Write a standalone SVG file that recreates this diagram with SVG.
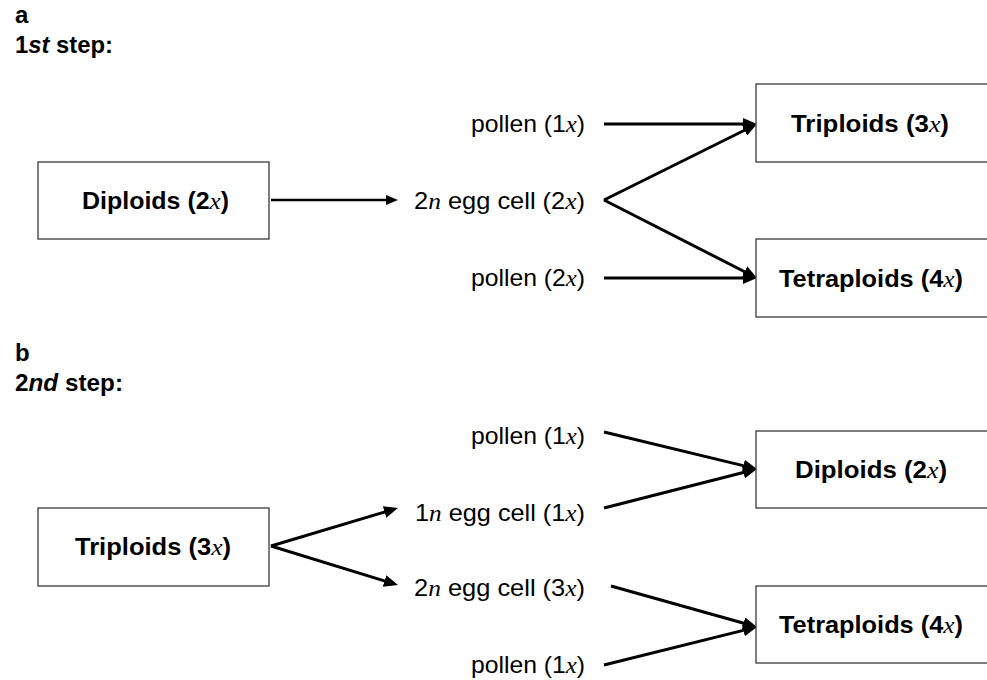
<svg xmlns="http://www.w3.org/2000/svg" width="987" height="680" viewBox="0 0 987 680">
<style>
.t{font-family:"Liberation Sans",Arial,sans-serif;font-size:24px;fill:#000}
.b{font-weight:bold}
.v{font-family:"Liberation Serif","Times New Roman",serif;font-style:italic;font-weight:normal}
.i{font-style:italic}
.box{fill:#fff;stroke:#3a3a3a;stroke-width:1.3}
.c{stroke:#000;stroke-width:3;fill:none}
.c0{stroke:#000;stroke-width:2.6;fill:none}
</style>
<defs>
<marker id="ah" markerUnits="userSpaceOnUse" markerWidth="14" markerHeight="12" refX="4" refY="6" orient="auto"><path d="M0,0 L14,6 L0,12 Z" fill="#000"/></marker>
<marker id="ahs" markerUnits="userSpaceOnUse" markerWidth="12" markerHeight="10" refX="3" refY="5" orient="auto"><path d="M0,0 L12,5 L0,10 Z" fill="#000"/></marker>
</defs>
<rect width="987" height="680" fill="#fff"/>
<g id="labels">
<text class="t b" x="15" y="23">a</text>
<text class="t b" x="15" y="53" textLength="98" lengthAdjust="spacingAndGlyphs">1<tspan class="i">st</tspan> step:</text>
<text class="t b" x="15" y="361">b</text>
<text class="t b" x="15" y="391" textLength="108" lengthAdjust="spacingAndGlyphs">2<tspan class="i">nd</tspan> step:</text>
</g>
<g id="connectors">
<line class="c0" x1="271" y1="200" x2="389" y2="200" marker-end="url(#ahs)"/>
<line class="c" x1="604" y1="124" x2="747" y2="124" marker-end="url(#ah)"/>
<line class="c" x1="604" y1="200" x2="748" y2="128.5" marker-end="url(#ah)"/>
<line class="c" x1="604" y1="200" x2="748.1" y2="273.5" marker-end="url(#ah)"/>
<line class="c" x1="604" y1="278" x2="747" y2="278" marker-end="url(#ah)"/>
<line class="c" x1="271" y1="546" x2="388.4" y2="510.9" marker-end="url(#ah)"/>
<line class="c" x1="271" y1="546" x2="388.4" y2="582.1" marker-end="url(#ah)"/>
<line class="c" x1="604" y1="432" x2="747.3" y2="466.6" marker-end="url(#ah)"/>
<line class="c" x1="604" y1="508" x2="747.3" y2="471.5" marker-end="url(#ah)"/>
<line class="c" x1="611" y1="586" x2="747.4" y2="624.3" marker-end="url(#ah)"/>
<line class="c" x1="604" y1="665" x2="747.3" y2="629.4" marker-end="url(#ah)"/>
</g>
<g id="a-diploids">
<rect class="box" x="38" y="162" width="231" height="77"/>
<text class="t b" x="82" y="209" textLength="147" lengthAdjust="spacingAndGlyphs">Diploids (2<tspan class="v">x</tspan>)</text>
</g>
<g id="a-pollen1">
<text class="t" x="471" y="132" textLength="114" lengthAdjust="spacingAndGlyphs">pollen (1<tspan class="v">x</tspan>)</text>
</g>
<g id="a-egg">
<text class="t" x="414" y="209" textLength="171" lengthAdjust="spacingAndGlyphs">2<tspan class="v">n</tspan> egg cell (2<tspan class="v">x</tspan>)</text>
</g>
<g id="a-pollen2">
<text class="t" x="471" y="286" textLength="114" lengthAdjust="spacingAndGlyphs">pollen (2<tspan class="v">x</tspan>)</text>
</g>
<g id="a-triploids">
<rect class="box" x="756" y="84" width="240" height="78"/>
<text class="t b" x="791" y="132" textLength="158" lengthAdjust="spacingAndGlyphs">Triploids (3<tspan class="v">x</tspan>)</text>
</g>
<g id="a-tetraploids">
<rect class="box" x="756" y="239" width="240" height="78"/>
<text class="t b" x="779" y="287" textLength="184" lengthAdjust="spacingAndGlyphs">Tetraploids (4<tspan class="v">x</tspan>)</text>
</g>
<g id="b-triploids">
<rect class="box" x="38" y="508" width="231" height="78"/>
<text class="t b" x="75" y="555" textLength="156" lengthAdjust="spacingAndGlyphs">Triploids (3<tspan class="v">x</tspan>)</text>
</g>
<g id="b-pollen1">
<text class="t" x="471" y="444" textLength="114" lengthAdjust="spacingAndGlyphs">pollen (1<tspan class="v">x</tspan>)</text>
</g>
<g id="b-egg1">
<text class="t" x="415" y="521" textLength="170" lengthAdjust="spacingAndGlyphs">1<tspan class="v">n</tspan> egg cell (1<tspan class="v">x</tspan>)</text>
</g>
<g id="b-egg2">
<text class="t" x="414" y="596" textLength="171" lengthAdjust="spacingAndGlyphs">2<tspan class="v">n</tspan> egg cell (3<tspan class="v">x</tspan>)</text>
</g>
<g id="b-pollen2">
<text class="t" x="471" y="673" textLength="114" lengthAdjust="spacingAndGlyphs">pollen (1<tspan class="v">x</tspan>)</text>
</g>
<g id="b-diploids">
<rect class="box" x="756" y="431" width="240" height="77"/>
<text class="t b" x="795" y="478" textLength="152" lengthAdjust="spacingAndGlyphs">Diploids (2<tspan class="v">x</tspan>)</text>
</g>
<g id="b-tetraploids">
<rect class="box" x="756" y="586" width="240" height="77"/>
<text class="t b" x="779" y="633" textLength="184" lengthAdjust="spacingAndGlyphs">Tetraploids (4<tspan class="v">x</tspan>)</text>
</g>
</svg>
